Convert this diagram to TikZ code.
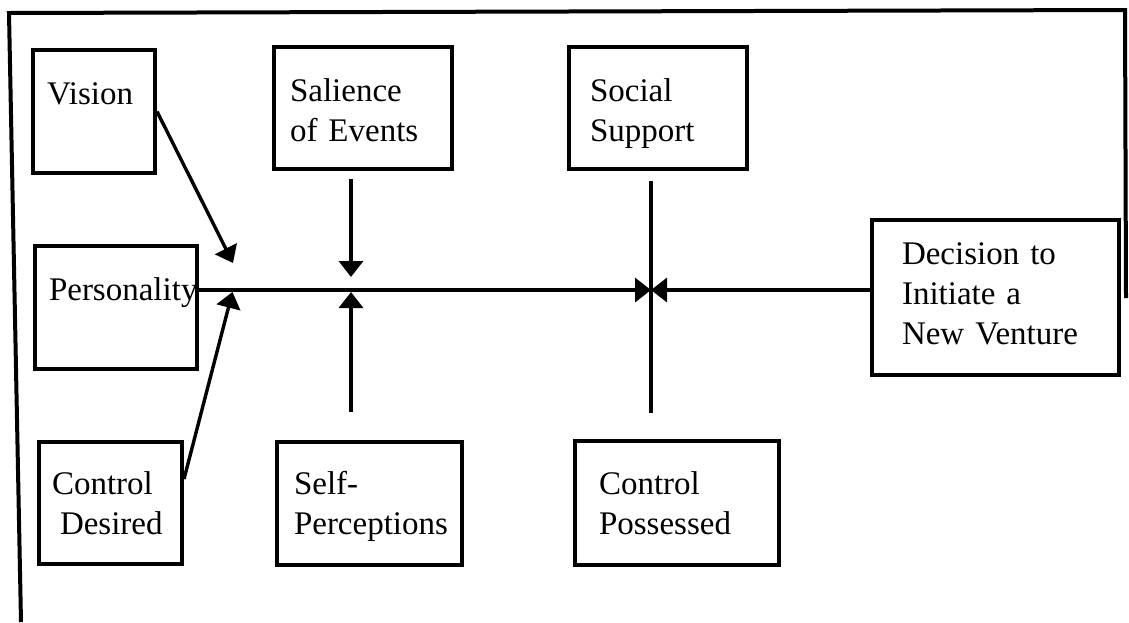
\documentclass[tikz,border=0pt]{standalone}
\usepackage{fontspec}
\setmainfont{Liberation Serif}
\usetikzlibrary{arrows.meta}
\hyphenpenalty=10000

\tikzset{%
  factor/.style={
    draw,
    line width=2pt,
    anchor=north west,
    align=left,
    inner ysep=0pt,
    font=\fontsize{16.5pt}{20pt}\selectfont
  },
  link/.style={line width=1.7pt},
}

\begin{document}
\begin{tikzpicture}[x=0.5pt, y=-0.5pt, >={Triangle[length=8pt,width=12pt]}]
\useasboundingbox (0,0) rectangle (1129,622);

%=========================================================================================================
% Frame
%=========================================================================================================
\draw [line width=2pt] (21,622) -- (9,13) -- (1125,10) -- (1126,298);

%=========================================================================================================
% Left column
%=========================================================================================================
\node [factor, inner xsep=7pt, text width=47pt, text height=27pt, text depth=34.5pt] (vision) at (31,48) {Vision};
\node [factor, inner xsep=7pt, text width=67pt, text height=27pt, text depth=34.5pt] (personality) at (33,244) {Personality};
\node [factor, inner xsep=6.5pt, text width=58.5pt, text height=26pt, text depth=35pt] (desired) at (37,440) {Control\\\hspace*{4pt}Desired};

%=========================================================================================================
% Upper and lower boxes
%=========================================================================================================
\node [factor, inner xsep=8pt, text width=73pt, text height=27pt, text depth=34pt] (salience) at (272,45) {Salience\\of Events};
\node [factor, inner xsep=10.5pt, text width=68pt, text height=27pt, text depth=34pt] (social) at (567,45) {Social\\Support};
\node [factor, inner xsep=8.5pt, text width=75.5pt, text height=26pt, text depth=35.5pt] (selfperc) at (275,440) {Self-\\Perceptions};
\node [factor, inner xsep=12pt, text width=78pt, text height=26.5pt, text depth=35.5pt] (possessed) at (573,439) {Control\\Possessed};

%=========================================================================================================
% Outcome
%=========================================================================================================
\node [factor, inner xsep=15pt, text width=93.5pt, text height=22pt, text depth=55.5pt] (decision) at (870,218) {Decision to\\Initiate a\\New Venture};

%=========================================================================================================
% Junctions on the main line
%=========================================================================================================
\coordinate (j1) at (233,290);
\coordinate (j1top) at (233,263);
\coordinate (j2) at (351,290);
\coordinate (j3) at (651,290);

%=========================================================================================================
% Draw connections
%=========================================================================================================
\draw [link,->] (vision.east) -- (j1top);
\draw [link,->,shorten >=1pt] ([yshift=12pt]desired.east) -- (j1);

\draw [link,->,shorten <=4pt,shorten >=6.5pt] (salience.south -| j2) -- (j2);
\draw [link,->,shorten <=14pt,shorten >=1pt] (selfperc.north -| j2) -- (j2);

\draw [link,shorten <=5pt,shorten >=13pt] (social.south -| j3) -- (possessed.north -| j3);

\draw [link,->] (personality.east |- j3) -- (j3);
\draw [link,->] (decision.west |- j3) -- (j3);

\end{tikzpicture}
\end{document}
